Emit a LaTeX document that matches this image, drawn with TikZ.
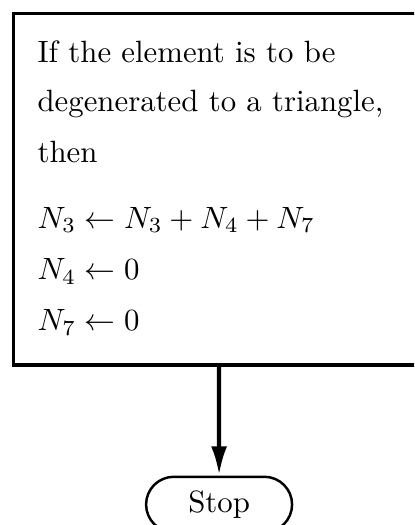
\documentclass[tikz,border=0pt]{standalone}
\usepackage{amsmath}
\usetikzlibrary{arrows.meta, shapes.misc}

\begin{document}
\begin{tikzpicture}[
  txtline/.style={anchor=base west, inner sep=0pt},
  term/.style={rounded rectangle, draw, line width=0.8pt, minimum width=47.4pt, minimum height=18pt, inner sep=0pt},
  flow/.style={line width=1.4pt, -{Latex[length=9.5pt,width=5.2pt]}}
]
  % page 414x525 px, 1px = 0.01141cm
  \useasboundingbox (0,0) rectangle (4.725,-5.991);
  \clip (0,0) rectangle (4.725,-5.991);
  % process box, runs off the right edge
  \draw[line width=1pt] (5.2,-0.154) -- (0.154,-0.154) -- (0.154,-4.165) -- (5.2,-4.165);
  \coordinate (boxout) at (2.5,-4.165);
  \node[txtline] (txt1) at (0.422,-0.708) {If the element is to be};
  \node[txtline] (txt2) at (0.422,-1.278) {degenerated to a triangle,};
  \node[txtline] (txt3) at (0.422,-1.849) {then};
  \node[txtline] (asgn1) at (0.422,-2.602) {$N_3 \leftarrow N_3 + N_4 + N_7$};
  \node[txtline] (asgn2) at (0.422,-3.195) {$N_4 \leftarrow 0$};
  \node[txtline] (asgn3) at (0.422,-3.777) {$N_7 \leftarrow 0$};
  % terminal, cut by the lower edge
  \node[term] (stop) at (2.5,-5.757) {Stop};
  \draw[flow] (boxout) -- (stop);
\end{tikzpicture}
\end{document}
